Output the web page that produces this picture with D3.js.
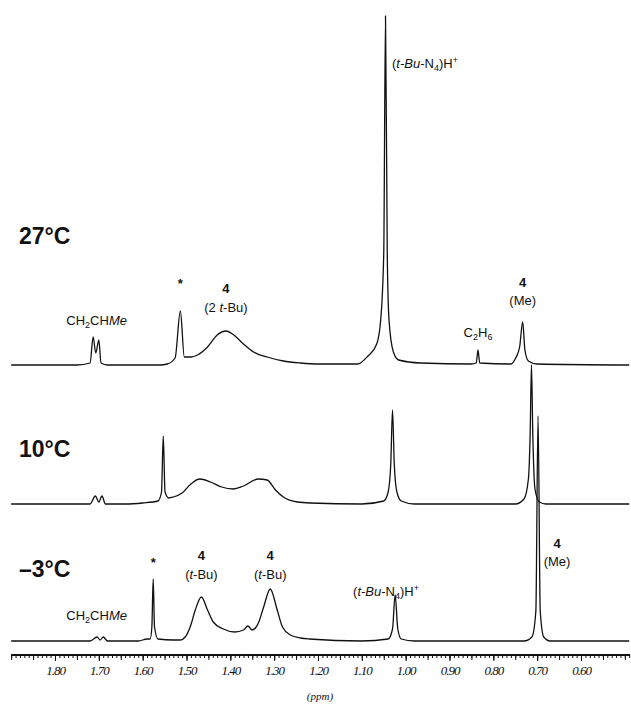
<!DOCTYPE html>
<html>
<head>
<meta charset="utf-8">
<script src="https://cdn.jsdelivr.net/npm/d3@7"></script>
<style>
  body { margin: 0; background: #fff; }
  text { font-family: "Liberation Sans", Arial, sans-serif; fill: #111; }
  .temp { font-size: 23px; font-weight: bold; }
  .lab { font-size: 13px; }
  .bold { font-weight: bold; }
  .tick text { font-family: "Liberation Serif", "Times New Roman", serif; font-style: italic; font-size: 13px; letter-spacing: -1px; }
</style>
</head>
<body>
<div id="container"></div>
<script>
// spectra: [ppm, intensity above baseline]
let spec27 = [
  [1.90,0],[1.75,0],[1.72,2],[1.713,28],[1.707,12],[1.70,25],[1.695,2],[1.68,0],
  [1.56,0],[1.544,1],[1.526,7],[1.514,54],[1.505,8],[1.49,8],[1.475,10],[1.452,18],
  [1.43,30],[1.41,34],[1.392,30],[1.37,21],[1.347,13],[1.316,8],[1.279,4],[1.24,2],
  [1.20,1],[1.11,1],[1.086,9],[1.066,21],[1.057,45],[1.05,112],[1.046,349],[1.042,112],
  [1.038,45],[1.028,13],[1.016,5],[0.966,2],[0.85,1],[0.839,2],[0.835,15],[0.831,2],
  [0.76,1],[0.749,7],[0.74,18],[0.733,43],[0.728,15],[0.72,4],[0.70,1],[0.49,0]
];
let spec10 = [
  [1.90,0],[1.72,0],[1.708,8],[1.70,2],[1.693,8],[1.685,0],[1.64,0],[1.60,1],
  [1.565,3],[1.557,12],[1.553,68],[1.549,12],[1.54,6],[1.53,7],[1.51,11],[1.49,20],
  [1.47,25],[1.445,22],[1.42,17],[1.393,15],[1.37,18],[1.336,25],[1.316,24],[1.297,14],
  [1.279,7],[1.247,2],[1.217,1],[1.10,0],[1.05,3],[1.04,12],[1.034,40],[1.03,94],
  [1.026,40],[1.02,12],[1.01,3],[0.98,0],[0.75,0],[0.73,5],[0.72,25],[0.716,70],
  [0.713,139],[0.710,70],[0.705,15],[0.695,2],[0.68,0],[0.49,0]
];
let specM3 = [
  [1.90,0],[1.72,0],[1.704,4],[1.697,1],[1.69,4],[1.68,0],[1.61,0],[1.59,2],
  [1.583,2],[1.579,14],[1.576,62],[1.573,14],[1.565,2],[1.53,1],[1.514,1],[1.503,4],
  [1.49,16],[1.48,31],[1.466,44],[1.452,31],[1.439,19],[1.416,12],[1.39,9],[1.37,11],
  [1.36,15],[1.35,11],[1.336,18],[1.324,34],[1.309,52],[1.293,31],[1.281,14],[1.263,6],
  [1.24,3],[1.22,2],[1.10,0],[1.04,2],[1.03,12],[1.024,46],[1.018,12],[1.01,2],
  [0.98,0],[0.73,0],[0.712,4],[0.703,30],[0.698,225],[0.693,30],[0.685,4],[0.67,0],[0.49,0]
];
let temps = ['27°C', '10°C', '\u20133°C'];
let baselines = [365, 504, 641];
let majorTicks = [1.80, 1.70, 1.60, 1.50, 1.40, 1.30, 1.20, 1.10, 1.00, 0.90, 0.80, 0.70, 0.60];

let width = 631, height = 705;

let viz = d3.select('#container')
    .append('svg')
    .attr('width', width)
    .attr('height', height);

let x = d3.scaleLinear().domain([1.80, 0.60]).range([55, 581]);
let left = x.invert(11), right = x.invert(630);

function yScale(base) {
    return d3.scaleLinear().domain([0, 350]).range([base, base - 350]);
}

let spectra = [spec27, spec10, specM3];

spectra.forEach(function (s, i) {
    let y = yScale(baselines[i]);
    let line = d3.line()
        .x(d => x(d[0]))
        .y(d => y(d[1]))
        .curve(d3.curveMonotoneX);
    viz.append('path')
        .datum(s)
        .attr('d', line)
        .attr('fill', 'none')
        .attr('stroke', '#111')
        .attr('stroke-width', 1.3);
});

// temperature labels
viz.selectAll('.temp').data(temps).enter()
    .append('text')
    .attr('class', 'temp')
    .attr('x', 19)
    .attr('y', (d, i) => [244, 457, 577][i])
    .text(d => d);

// axis
let minor = d3.range(190, 48, -1).map(v => v / 100);
let axisMinor = d3.axisBottom(x).tickValues(minor).tickSize(3).tickFormat('');
let axisMid = d3.axisBottom(x).tickValues(minor.filter(v => Math.round(v * 100) % 5 == 0)).tickSize(5).tickFormat('');
let axisMajor = d3.axisBottom(x).tickValues(majorTicks).tickSize(6).tickPadding(5).tickFormat(d3.format('.2f'));

let gAxis = viz.append('g').attr('transform', 'translate(0,655)');
gAxis.append('g').call(axisMinor);
gAxis.append('g').call(axisMid);
gAxis.append('g').call(axisMajor);
gAxis.selectAll('.domain').attr('d', 'M' + x(left) + ',0H' + x(right)).attr('stroke', '#111').attr('stroke-width', 1.5);
gAxis.selectAll('.tick line').attr('stroke', '#111');
gAxis.selectAll('.tick text').attr('fill', '#111');

viz.append('text')
    .attr('x', 320).attr('y', 700)
    .attr('text-anchor', 'middle')
    .style('font-family', '"Liberation Serif", serif')
    .style('font-style', 'italic')
    .style('font-size', '11px')
    .text('(ppm)');

// annotations
function label(px, py, anchor, cls) {
    return viz.append('text')
        .attr('class', 'lab' + (cls ? ' ' + cls : ''))
        .attr('x', px).attr('y', py)
        .attr('text-anchor', anchor);
}
function protonated(t) {
    t.append('tspan').text('(');
    t.append('tspan').style('font-style', 'italic').text('t-Bu');
    t.append('tspan').text('-N');
    t.append('tspan').attr('font-size', '9px').attr('dy', 3).text('4');
    t.append('tspan').attr('dy', -3).text(')H');
    t.append('tspan').attr('font-size', '9px').attr('dy', -5).text('+');
}
function butene(t) {
    t.append('tspan').text('CH');
    t.append('tspan').attr('font-size', '9px').attr('dy', 3).text('2');
    t.append('tspan').attr('dy', -3).text('CH');
    t.append('tspan').style('font-style', 'italic').text('Me');
}
function tbu(t, pre) {
    t.append('tspan').text('(' + pre);
    t.append('tspan').style('font-style', 'italic').text('t');
    t.append('tspan').text('-Bu)');
}

// 27 °C
protonated(label(392, 68, 'start'));
butene(label(x(1.705), 325, 'middle'));
label(x(1.514), 288, 'middle', 'bold').text('*');
label(x(1.41), 293, 'middle', 'bold').text('4');
tbu(label(x(1.41), 312, 'middle'), '2 ');
let c2 = label(x(0.835), 337, 'middle');
c2.append('tspan').text('C');
c2.append('tspan').attr('font-size', '9px').attr('dy', 3).text('2');
c2.append('tspan').attr('dy', -3).text('H');
c2.append('tspan').attr('font-size', '9px').attr('dy', 3).text('6');
label(x(0.733), 287, 'middle', 'bold').text('4');
label(x(0.733), 305, 'middle').text('(Me)');

// -3 °C
butene(label(x(1.705), 620, 'middle'));
label(x(1.576), 567, 'middle', 'bold').text('*');
label(x(1.466), 560, 'middle', 'bold').text('4');
tbu(label(x(1.466), 579, 'middle'), '');
label(x(1.309), 560, 'middle', 'bold').text('4');
tbu(label(x(1.309), 579, 'middle'), '');
protonated(label(386, 596, 'middle'));
label(557, 548, 'middle', 'bold').text('4');
label(557, 566, 'middle').text('(Me)');
</script>
</body>
</html>
